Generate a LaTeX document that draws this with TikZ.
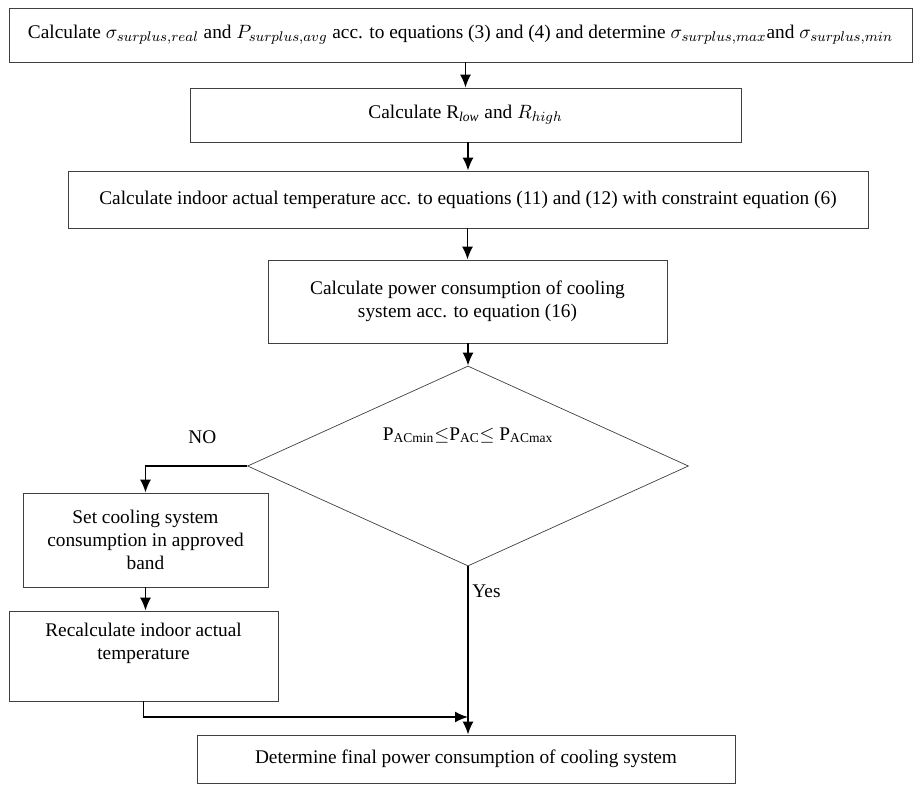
\documentclass[tikz,border=0pt]{standalone}
\usepackage{fontspec}
\setmainfont{Liberation Serif}
\usepackage{tikz}
\usetikzlibrary{shapes,arrows.meta,calc,positioning}
\tikzset{
    -{Latex[length=2.6mm,width=2.2mm]},line width=0.8pt,
    block/.style ={rectangle, draw=black!75, align=center, inner sep=2pt},
    decision/.style ={diamond, draw=black!75, aspect=2.2, inner sep=0pt,
        minimum width=8.82cm, minimum height=4cm},
    flow/.style = {line width=1pt},
    lbl/.style = {inner sep=2pt}
}

\begin{document}
\begin{tikzpicture}[font=\fontsize{11}{13}\selectfont]
        \useasboundingbox (0,0) rectangle (18.28,-15.70);

        \node[block, minimum width=18.06cm, minimum height=1.08cm] (surplus) at (9.21,-0.70)
            {Calculate $\sigma_{surplus,real}$ and $P_{surplus,avg}$ acc. to equations (3) and (4) and determine $\sigma_{surplus,max}$and $\sigma_{surplus,min}$};
        \node[block, minimum width=11.02cm, minimum height=1.08cm] (ratio) at (9.31,-2.30)
            {Calculate R$_{\mathit{low}}$ and $R_{high}$};
        \node[block, minimum width=16cm, minimum height=1.14cm] (indoor) at (9.36,-3.99)
            {Calculate indoor actual temperature acc. to equations (11) and (12) with constraint equation (6)};
        \node[block, minimum width=7.98cm, minimum height=1.66cm] (power) at (9.35,-6.03)
            {Calculate power consumption of cooling\\system acc. to equation (16)};
        \node[decision, text height=0.35cm, text depth=1.39cm] (check) at (9.36,-9.32)
            {P\textsubscript{ACmin}$\leq$P\textsubscript{AC}$\leq$ P\textsubscript{ACmax}};
        \node[block, minimum width=4.90cm, minimum height=1.88cm] (setband) at (2.91,-10.80)
            {Set cooling system\\consumption in approved\\band};
        \node[block, minimum width=5.38cm, minimum height=1.80cm] (recalc) at (2.87,-13.12)
            {Recalculate indoor actual\\temperature\\ \strut};
        \node[block, minimum width=10.76cm, minimum height=0.96cm] (final) at (9.32,-15.18)
            {Determine final power consumption of cooling system};
        \coordinate (merge) at (check.south |- 0,-14.34);

        \draw[flow] (ratio.north |- surplus.south) -- (ratio.north);
        \draw[flow] (indoor.north |- ratio.south) -- (indoor.north);
        \draw[flow] (power.north |- indoor.south) -- (power.north);
        \draw[flow] (check.north |- power.south) -- (check.north);
        \draw[flow] (check.west) -| node[lbl, pos=0.22, above=0.35cm] (no) {NO} (setband.north);
        \draw[flow] (setband.south) -- (setband.south |- recalc.north);
        \draw[flow] (check.south) -- node[lbl, pos=0.15, right] (yes) {Yes} (check.south |- final.north);
        \draw[flow] (recalc.south) |- (merge);
    \end{tikzpicture}
\end{document}
